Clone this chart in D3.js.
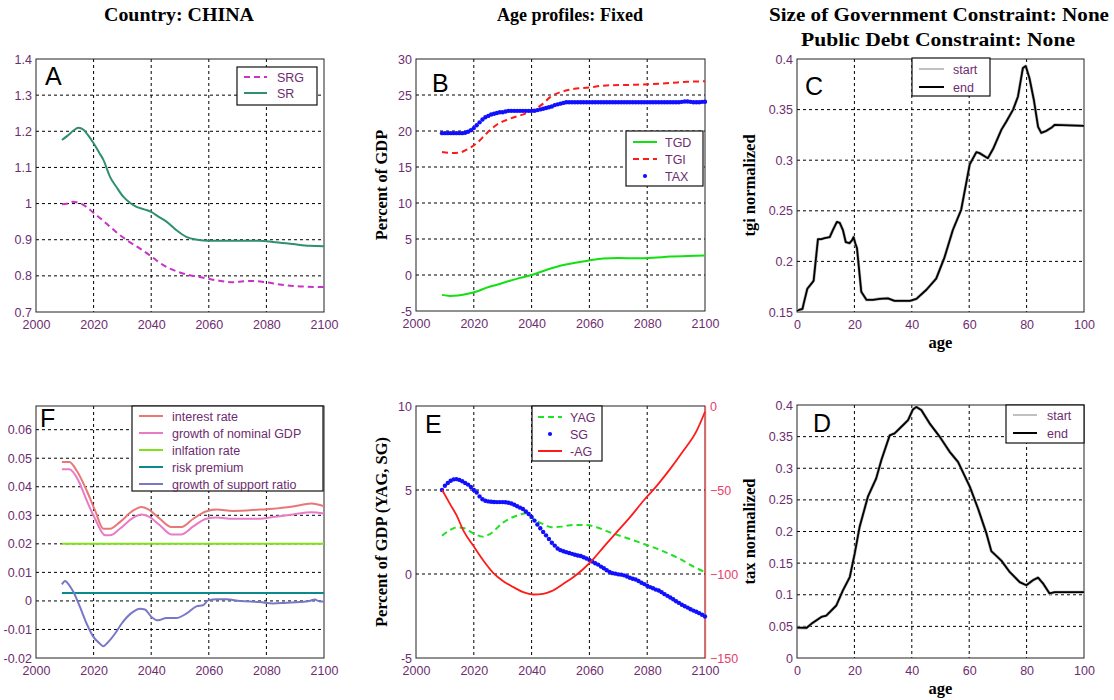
<!DOCTYPE html>
<html>
<head>
<meta charset="utf-8">
<script src="https://cdn.jsdelivr.net/npm/d3@7"></script>
<style>
  body { margin: 0; background: #fff; }
  svg { display: block; }
</style>
</head>
<body>
<div class="chart"></div>
<script>
/*---------- DATA ----------*/

// panel A: support ratios
const SRG = [[2009,0.998],[2011,1.000],[2012.7,1.005],[2015.8,0.999],[2018,0.988],[2020,0.974],[2023,0.955],[2025.7,0.936],[2028.5,0.917],[2031.5,0.899],[2036,0.876],[2040,0.854],[2043,0.836],[2046.5,0.820],[2049,0.812],[2052.2,0.804],[2056,0.798],[2059.8,0.792],[2064,0.786],[2068.4,0.782],[2072,0.785],[2075.4,0.786],[2080,0.782],[2084,0.777],[2089.2,0.772],[2094,0.770],[2100,0.769]];
const SR = [[2009,1.176],[2011,1.188],[2013,1.202],[2014.7,1.210],[2016.5,1.204],[2018,1.190],[2020,1.167],[2022,1.140],[2023.4,1.121],[2025.7,1.074],[2028,1.045],[2030.3,1.019],[2032.5,1.003],[2034.9,0.991],[2037.5,0.984],[2040,0.977],[2042.5,0.964],[2045.3,0.950],[2048.5,0.928],[2052.2,0.908],[2056,0.900],[2059.8,0.897],[2068.4,0.897],[2077.7,0.897],[2082.3,0.894],[2089.2,0.888],[2095,0.883],[2100,0.882]];

// panel B: government finances, percent of GDP
const TGD = [[2009,-2.76],[2011.8,-2.9],[2014.5,-2.85],[2017.5,-2.65],[2021,-2.3],[2024.5,-1.75],[2028,-1.35],[2032.5,-0.8],[2036,-0.4],[2040,0.0],[2045,0.7],[2051,1.4],[2055,1.7],[2059,1.96],[2064.8,2.3],[2070,2.35],[2076.3,2.33],[2082,2.4],[2087.9,2.56],[2094,2.65],[2100,2.7]];
const TGI = [[2009,17.07],[2012.9,16.93],[2015.5,17.05],[2017.5,17.4],[2021,18.3],[2024.5,19.7],[2027.9,20.87],[2032.5,21.7],[2038.3,22.5],[2041.8,23.2],[2044,23.8],[2046.4,24.7],[2049.8,25.37],[2053.3,25.74],[2060.2,26.06],[2064.8,26.3],[2076.3,26.43],[2087.9,26.66],[2094,26.85],[2100,26.9]];
// TAX: one value per year, 2009..2100
const TAX = [19.7,19.7,19.7,19.7,19.7,19.7,19.7,19.7,19.75,19.9,20.1,20.4,20.8,21.2,21.6,21.9,22.1,22.3,22.4,22.5,22.6,22.6,22.7,22.8,22.8,22.8,22.8,22.8,22.8,22.8,22.8,22.8,22.8,22.9,23.0,23.1,23.2,23.3,23.4,23.6,23.7,23.8,23.9,24.0,24.0,24.0,24.0,24.0,24.0,24.0,24.0,24.0,24.0,24.0,24.0,24.0,24.0,24.0,24.0,24.0,24.0,24.0,24.0,24.0,24.0,24.0,24.0,24.0,24.0,24.0,24.0,24.0,24.0,24.0,24.0,24.0,24.0,24.0,24.0,24.0,24.0,24.0,24.0,24.05,24.1,24.1,24.05,24.0,24.0,24.0,24.05,24.07];

// panel C / D: age profiles
const TGI_AGE = [[0,0.151],[0.7,0.152],[1.9,0.153],[2.3,0.158],[3.6,0.173],[5.3,0.179],[5.8,0.181],[7.3,0.222],[8.5,0.222],[9.6,0.223],[11.4,0.224],[12.5,0.231],[13.9,0.239],[14.9,0.238],[16,0.231],[17,0.219],[18.3,0.218],[19.2,0.221],[19.7,0.224],[20.3,0.218],[20.9,0.213],[22.4,0.170],[24.2,0.162],[26.5,0.162],[28.8,0.163],[31.7,0.1635],[34,0.161],[39.3,0.161],[41.6,0.163],[45.1,0.172],[48.5,0.183],[51.4,0.204],[54.3,0.231],[57.2,0.251],[60.2,0.296],[62.5,0.308],[63.6,0.307],[66.5,0.302],[68.3,0.311],[71.2,0.330],[72.9,0.338],[75.3,0.350],[77,0.363],[78.7,0.391],[79.7,0.393],[81,0.381],[82.5,0.360],[84,0.333],[85.1,0.327],[86.9,0.329],[88.6,0.332],[89.8,0.335],[100,0.334]];
const TAX_AGE = [[0,0.048],[3.3,0.0475],[5,0.054],[8.5,0.065],[10.2,0.067],[13.7,0.083],[16,0.107],[18.4,0.128],[20.1,0.165],[21.8,0.207],[24.7,0.255],[27.6,0.284],[29.4,0.313],[32.3,0.352],[34,0.355],[36.9,0.368],[38.7,0.376],[40.4,0.393],[41.6,0.397],[43.3,0.392],[46.2,0.371],[49.7,0.350],[53.2,0.326],[56.1,0.310],[60.2,0.271],[63.1,0.236],[66,0.197],[67.7,0.169],[71.2,0.154],[74.1,0.136],[77.6,0.120],[79.9,0.115],[82.2,0.123],[84,0.127],[85.7,0.118],[88,0.102],[89.8,0.104],[100,0.104]];

// panel F: rates
const INTEREST = [[2009,0.0487],[2011.6,0.0487],[2014.1,0.0457],[2017.6,0.0387],[2020.5,0.0317],[2023.4,0.0253],[2025.7,0.0253],[2029.1,0.0276],[2033.8,0.0317],[2036.6,0.0329],[2039,0.0321],[2043,0.0288],[2047,0.0259],[2050.5,0.0259],[2054.6,0.0288],[2059.2,0.0314],[2062.7,0.0320],[2068.4,0.0315],[2077.7,0.0320],[2082.3,0.0323],[2089.2,0.0331],[2095.6,0.0341],[2100,0.0332]];
const NOMINAL_GDP = [[2009,0.0461],[2011.6,0.0461],[2014.7,0.0422],[2017.6,0.0352],[2020.5,0.0288],[2024,0.0230],[2025.7,0.0230],[2029.1,0.0253],[2033.8,0.0292],[2036.6,0.0303],[2039,0.0296],[2043,0.0265],[2047,0.0233],[2050.5,0.0233],[2054.6,0.0261],[2059.2,0.0288],[2062.7,0.0292],[2068.4,0.0288],[2077.7,0.0288],[2082.3,0.0294],[2089.2,0.0303],[2095.6,0.0311],[2100,0.0306]];
const INFLATION = [[2009,0.02],[2100,0.02]];
const RISK_PREMIUM = [[2009,0.0028],[2100,0.0028]];
const SUPPORT_GROWTH = [[2009,0.0058],[2010.1,0.0070],[2011.2,0.0060],[2013,0.0031],[2015.3,-0.0022],[2017.6,-0.0080],[2020,-0.0127],[2022.2,-0.0150],[2023.4,-0.0159],[2024.5,-0.0150],[2027.4,-0.0115],[2029.7,-0.0080],[2033.2,-0.0042],[2036.1,-0.0027],[2037.8,-0.0030],[2040.1,-0.0056],[2042.4,-0.0068],[2045.3,-0.0060],[2048.7,-0.0060],[2052.3,-0.0044],[2055.7,-0.0019],[2058,-0.0015],[2059.8,0.0002],[2062.7,0.0006],[2066.1,0.0006],[2070.8,0.0],[2077.7,-0.0004],[2082.3,-0.0009],[2087,-0.0006],[2091.5,-0.0004],[2095,0.0],[2096.8,0.0005],[2098.5,-0.0002],[2100,-0.0002]];

// panel E: generational accounts
const YAG = [[2009,2.28],[2011.8,2.62],[2014.1,2.78],[2016.4,2.74],[2019.8,2.42],[2023.3,2.22],[2025.6,2.38],[2030.2,3.07],[2034.8,3.47],[2038.3,3.61],[2040.6,3.27],[2044,2.97],[2046.9,2.78],[2050.4,2.82],[2054.4,2.92],[2059,2.92],[2062.5,2.78],[2067.1,2.48],[2074,2.08],[2079.8,1.73],[2085.6,1.35],[2091.3,0.90],[2096.5,0.40],[2100,0.12]];
// SG: one value per year, 2009..2100
const SG = [5.0,5.25,5.42,5.55,5.63,5.65,5.6,5.52,5.42,5.32,5.18,5.0,4.85,4.62,4.45,4.36,4.32,4.3,4.29,4.28,4.28,4.28,4.27,4.24,4.2,4.12,4.03,3.95,3.87,3.72,3.57,3.4,3.18,2.95,2.72,2.5,2.3,2.08,1.86,1.69,1.52,1.42,1.35,1.3,1.25,1.2,1.15,1.1,1.07,1.0,0.92,0.84,0.74,0.64,0.56,0.44,0.34,0.22,0.12,0.05,0.02,-0.02,-0.04,-0.08,-0.15,-0.22,-0.28,-0.33,-0.42,-0.52,-0.6,-0.7,-0.78,-0.85,-0.93,-0.98,-1.08,-1.2,-1.3,-1.4,-1.5,-1.62,-1.72,-1.83,-1.92,-2.0,-2.1,-2.18,-2.25,-2.33,-2.43,-2.53];
const MINUS_AG = [[2009,-49.9],[2011.8,-58.4],[2014.1,-65.3],[2016.4,-74.2],[2019.8,-83.1],[2023.3,-92.0],[2026.8,-99.5],[2030.2,-104.3],[2033.7,-107.8],[2037.1,-110.8],[2040.6,-112.2],[2044,-111.8],[2046.9,-110.2],[2050.9,-105.9],[2054.4,-101.9],[2057.9,-97.0],[2061.4,-91.0],[2064.8,-84.1],[2069.4,-75.2],[2074,-66.3],[2078.7,-56.4],[2083.3,-47.5],[2087.9,-37.6],[2092.5,-26.7],[2097.1,-14.8],[2100,-3.4]];

const YEARS = d3.range(2009, 2101);
const YEAR_TICKS = [2000, 2020, 2040, 2060, 2080, 2100];
const AGE_TICKS = [0, 20, 40, 60, 80, 100];

/*---------- D3 STUFF ----------*/

const W = 1114, H = 700;
const TICK_COLOR = "#6e2c70";
const SANS = "'Liberation Sans', Arial, sans-serif";
const SERIF = "'Liberation Serif', 'Times New Roman', serif";

const svg = d3.select(".chart").append("svg")
    .attr("width", W)
    .attr("height", H);

//titles
function title(txt, cx, y, len) {
    svg.append("text")
        .attr("x", cx).attr("y", y)
        .attr("text-anchor", "middle")
        .attr("textLength", len)
        .attr("lengthAdjust", "spacingAndGlyphs")
        .style("font-family", SERIF)
        .style("font-size", "18px")
        .style("font-weight", "bold")
        .text(txt);
}
title("Country: CHINA", 179, 21, 150);
title("Age profiles: Fixed", 570, 21, 146);
title("Size of Government Constraint: None", 939, 21, 340);
title("Public Debt Constraint: None", 938, 46, 274);

//builds a framed panel with grid, tick labels and returns its scales
function panel(o) {
    const x = d3.scaleLinear().domain(o.xd).range([o.l, o.r]);
    const y = d3.scaleLinear().domain(o.yd).range([o.b, o.t]);
    const g = svg.append("g");

    //grid
    g.append("g").selectAll("line")
        .data(o.xt.filter(v => x(v) > o.l + 1 && x(v) < o.r - 1))
        .enter().append("line")
            .attr("x1", d => x(d)).attr("x2", d => x(d))
            .attr("y1", o.t).attr("y2", o.b)
            .attr("stroke", "#000").attr("stroke-dasharray", "3,3");
    g.append("g").selectAll("line")
        .data(o.yt.filter(v => y(v) > o.t + 1 && y(v) < o.b - 1))
        .enter().append("line")
            .attr("y1", d => y(d)).attr("y2", d => y(d))
            .attr("x1", o.l).attr("x2", o.r)
            .attr("stroke", "#000").attr("stroke-dasharray", "3,3");

    //axes
    const xAxis = g.append("g")
        .attr("transform", `translate(0, ${o.b})`)
        .call(d3.axisBottom(x).tickValues(o.xt).tickSize(0).tickPadding(8).tickFormat(d3.format("d")));
    const yAxis = g.append("g")
        .attr("transform", `translate(${o.l}, 0)`)
        .call(d3.axisLeft(y).tickValues(o.yt).tickSize(0).tickPadding(4).tickFormat(o.yf || (d => String(+d.toFixed(3)))));
    [xAxis, yAxis].forEach(a => {
        a.select(".domain").remove();
        a.selectAll("text")
            .attr("fill", TICK_COLOR)
            .style("font-family", SANS)
            .style("font-size", "12.5px");
    });

    //frame
    g.append("rect")
        .attr("x", o.l).attr("y", o.t)
        .attr("width", o.r - o.l).attr("height", o.b - o.t)
        .attr("fill", "none").attr("stroke", "#222").attr("stroke-width", 1);

    //letter
    g.append("text")
        .attr("x", o.l + o.lx).attr("y", o.t + o.ly)
        .style("font-family", SANS).style("font-size", "25px")
        .text(o.letter);

    //axis labels
    if (o.ylabel) {
        g.append("text")
            .attr("transform", `translate(${o.ylx}, ${(o.t + o.b) / 2}) rotate(-90)`)
            .attr("text-anchor", "middle")
            .style("font-family", SERIF).style("font-size", "16.5px").style("font-weight", "bold")
            .text(o.ylabel);
    }
    if (o.xlabel) {
        g.append("text")
            .attr("x", (o.l + o.r) / 2).attr("y", o.b + 36)
            .attr("text-anchor", "middle")
            .style("font-family", SERIF).style("font-size", "16.5px").style("font-weight", "bold")
            .text(o.xlabel);
    }
    return {g, x, y};
}

function drawLine(p, data, color, width, dash, curve, yScale) {
    const ys = yScale || p.y;
    p.g.append("path")
        .datum(data)
        .attr("fill", "none")
        .attr("stroke", color)
        .attr("stroke-width", width)
        .attr("stroke-dasharray", dash || null)
        .attr("stroke-linejoin", "round")
        .attr("d", d3.line().curve(curve || d3.curveMonotoneX).x(d => p.x(d[0])).y(d => ys(d[1])));
}

function drawDots(p, values, color) {
    p.g.append("g").selectAll("circle")
        .data(values)
        .enter().append("circle")
            .attr("cx", (d, i) => p.x(YEARS[i]))
            .attr("cy", d => p.y(d))
            .attr("r", 2.2)
            .attr("fill", color);
}

//legend box: entries {label, color, dash, dot, width}
function legend(box, rows, sample, textX, entries) {
    svg.append("rect")
        .attr("x", box[0]).attr("y", box[1])
        .attr("width", box[2] - box[0]).attr("height", box[3] - box[1])
        .attr("fill", "#fff").attr("stroke", "#111").attr("stroke-width", 1.2);
    entries.forEach((e, i) => {
        const yy = rows[i];
        if (e.dot) {
            svg.append("circle")
                .attr("cx", (sample[0] + sample[1]) / 2).attr("cy", yy)
                .attr("r", 2.1).attr("fill", e.color);
        } else {
            svg.append("line")
                .attr("x1", sample[0]).attr("x2", sample[1])
                .attr("y1", yy).attr("y2", yy)
                .attr("stroke", e.color).attr("stroke-width", e.width || 2)
                .attr("stroke-dasharray", e.dash || null);
        }
        svg.append("text")
            .attr("x", textX).attr("y", yy).attr("dy", "0.36em")
            .attr("fill", TICK_COLOR)
            .style("font-family", SANS).style("font-size", "12.5px")
            .text(e.label);
    });
}

/*---------- PANEL A ----------*/
const pA = panel({l:36, r:324, t:59, b:312, xd:[2000,2100], yd:[0.7,1.4],
    xt: YEAR_TICKS, yt: d3.range(7, 15).map(v => v / 10), letter: "A", lx: 9, ly: 26});
drawLine(pA, SR, "#2f8f6f", 2);
drawLine(pA, SRG, "#c832c8", 2, "6,4");
legend([237,67,317,105], [77,93], [244,267], 277, [
    {label:"SRG", color:"#c832c8", dash:"6,4"},
    {label:"SR", color:"#2f8f6f"}]);

/*---------- PANEL B ----------*/
const pB = panel({l:416, r:705, t:59, b:311, xd:[2000,2100], yd:[-5,30],
    xt: YEAR_TICKS, yt: d3.range(-5, 31, 5), letter: "B", lx: 16, ly: 33,
    ylabel: "Percent of GDP", ylx: 387});
drawLine(pB, TGD, "#11e011", 2);
drawLine(pB, TGI, "#ff1a1a", 2, "6,4");
drawDots(pB, TAX, "#1010ff");
legend([626,131,703,186], [142,159,176], [633,657], 665, [
    {label:"TGD", color:"#11e011"},
    {label:"TGI", color:"#ff1a1a", dash:"6,4"},
    {label:"TAX", color:"#1010ff", dot:true}]);

/*---------- PANEL C ----------*/
const pC = panel({l:797, r:1084, t:59, b:312, xd:[0,100], yd:[0.15,0.4],
    xt: AGE_TICKS, yt: d3.range(15, 41, 5).map(v => v / 100), letter: "C", lx: 8, ly: 36,
    ylabel: "tgi normalized", ylx: 755, xlabel: "age"});
drawLine(pC, TGI_AGE, "#b0b0b0", 3, null, d3.curveLinear);
drawLine(pC, TGI_AGE, "#000", 1.8, null, d3.curveLinear);
legend([912,58,990,96], [69,87], [919,944], 953, [
    {label:"start", color:"#c0c0c0"},
    {label:"end", color:"#000"}]);

/*---------- PANEL F ----------*/
const pF = panel({l:36, r:324, t:406, b:658, xd:[2000,2100], yd:[-0.02,0.0683],
    xt: YEAR_TICKS, yt: d3.range(-2, 7).map(v => v / 100), letter: "F", lx: 4, ly: 21});
drawLine(pF, INFLATION, "#80e01a", 2);
drawLine(pF, RISK_PREMIUM, "#0a8a8a", 2);
drawLine(pF, NOMINAL_GDP, "#e87ac8", 2);
drawLine(pF, INTEREST, "#e87878", 2);
drawLine(pF, SUPPORT_GROWTH, "#7878c8", 2);
legend([132,406,323,491], [416,433,450,467,484], [139,163], 172, [
    {label:"interest rate", color:"#e87878"},
    {label:"growth of nominal GDP", color:"#e87ac8"},
    {label:"inlfation rate", color:"#80e01a"},
    {label:"risk premium", color:"#0a8a8a"},
    {label:"growth of support ratio", color:"#7878c8"}]);

/*---------- PANEL E ----------*/
const pE = panel({l:416, r:705, t:406, b:658, xd:[2000,2100], yd:[-5,10],
    xt: YEAR_TICKS, yt: [-5, 0, 5, 10], letter: "E", lx: 9, ly: 27,
    ylabel: "Percent of GDP (YAG, SG)", ylx: 387});
const yRight = d3.scaleLinear().domain([-150, 0]).range([658, 406]);
const rAxis = pE.g.append("g")
    .attr("transform", "translate(705, 0)")
    .call(d3.axisRight(yRight).tickValues([-150, -100, -50, 0]).tickSize(0).tickPadding(5));
rAxis.select(".domain").attr("stroke", "#ff5a5a").attr("stroke-width", 1.3);
rAxis.selectAll("text")
    .attr("fill", "#e8406a")
    .style("font-family", SANS).style("font-size", "12.5px");
drawLine(pE, YAG, "#22e022", 2, "6,4");
drawDots(pE, SG, "#1010ff");
drawLine(pE, MINUS_AG, "#ff1a1a", 1.8, null, null, yRight);
legend([532,406,602,461], [417,434,451], [538,562], 570, [
    {label:"YAG", color:"#22e022", dash:"6,4"},
    {label:"SG", color:"#1010ff", dot:true},
    {label:"-AG", color:"#ff1a1a"}]);

/*---------- PANEL D ----------*/
const pD = panel({l:797, r:1084, t:405, b:658, xd:[0,100], yd:[0,0.4],
    xt: AGE_TICKS, yt: d3.range(0, 41, 5).map(v => v / 100), letter: "D", lx: 16, ly: 27,
    ylabel: "tax normalized", ylx: 755, xlabel: "age"});
drawLine(pD, TAX_AGE, "#b0b0b0", 3, null, d3.curveLinear);
drawLine(pD, TAX_AGE, "#000", 1.8, null, d3.curveLinear);
legend([1006,405,1084,443], [415,433], [1013,1037], 1047, [
    {label:"start", color:"#c0c0c0"},
    {label:"end", color:"#000"}]);
</script>
</body>
</html>
